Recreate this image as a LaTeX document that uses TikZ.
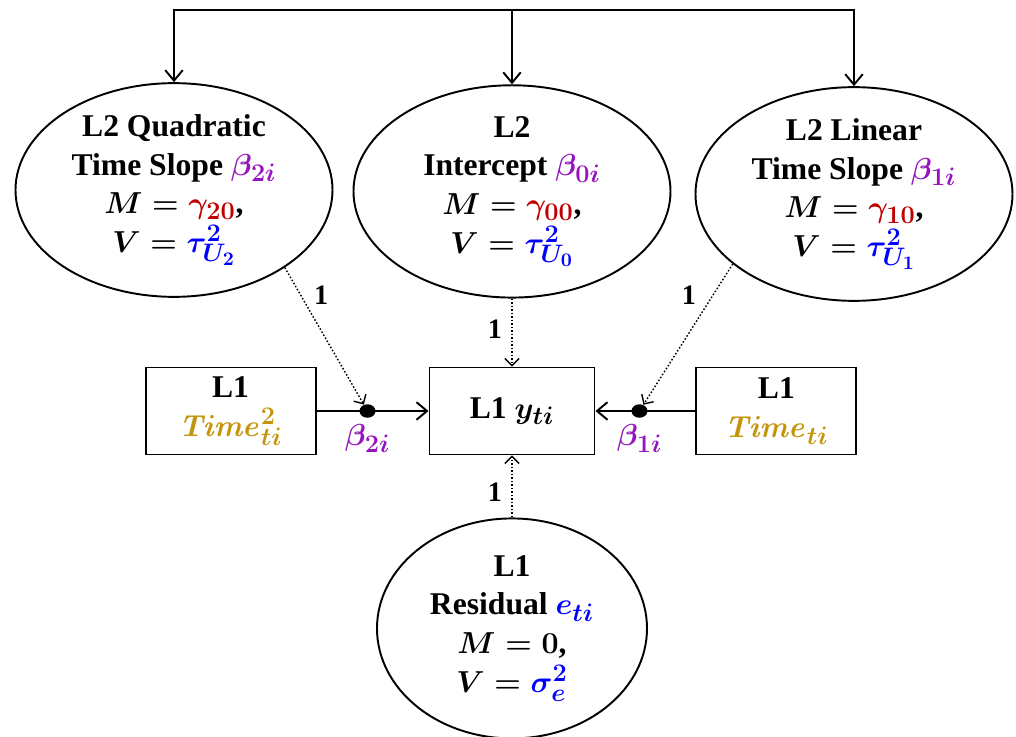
\documentclass[tikz,border=0pt]{standalone}
\usepackage[no-math]{fontspec}
\setmainfont{Liberation Serif}
\usepackage{xcolor}
\definecolor{betapurple}{RGB}{150,20,190}
\definecolor{gammared}{RGB}{192,0,0}
\definecolor{taublue}{RGB}{0,0,255}
\definecolor{timegold}{RGB}{196,148,10}
\DeclareMathSizes{18}{18}{14}{11}
\usepackage{tikz}
\usetikzlibrary{
  arrows.meta,
  positioning,
  shapes.geometric
}
\tikzset{
  latent/.style={draw, ellipse, line width=1.1pt, inner sep=0pt,
    minimum width=6.34cm, minimum height=4.22cm,
    align=center, font=\fontsize{18}{22}\selectfont\bfseries\boldmath},
  obsbox/.style={draw, line width=1.1pt, minimum height=1.74cm,
    align=center, font=\fontsize{18}{22}\selectfont\bfseries\boldmath},
  arr/.style={-{Straight Barb[length=6pt, width=10pt]}, line width=1.1pt},
  darr/.style={-{Straight Barb[length=4pt, width=8pt]}, line width=0.8pt,
    dash pattern=on 0.9pt off 1.1pt},
  dotpt/.style={ellipse, fill, inner sep=0pt,
    minimum width=0.32cm, minimum height=0.27cm},
  wlbl/.style={font=\fontsize{16}{18}\selectfont\bfseries},
  slbl/.style={font=\fontsize{18}{22}\selectfont\bfseries\boldmath, text=betapurple},
}
\newcommand{\cbeta}[1]{{\color{betapurple}#1}}
\newcommand{\cgamma}[1]{{\color{gammared}#1}}
\newcommand{\ctau}[1]{{\color{taublue}#1}}
\newcommand{\ctime}[1]{{\color{timegold}#1}}

\begin{document}
\begin{tikzpicture}
  \useasboundingbox (-10.24,-6.5) rectangle (10.08,8.22);

  % Level-1 row: outcome and time predictors
  \node[obsbox, minimum width=3.3cm] (ybox) at (0,0) {L1 $y_{ti}$};
  \node[obsbox, minimum width=3.4cm, left=2.24cm of ybox] (t2box)
    {L1\\$\ctime{\mathit{Time}^2_{ti}}$};
  \node[obsbox, minimum width=3.2cm, right=2cm of ybox] (t1box)
    {L1\\$\ctime{\mathit{Time}_{ti}}$};

  % Level-2 random effects
  \node[latent] (lel) at (-6.76,4.42)
    {L2 Quadratic\\Time Slope $\cbeta{\beta_{2i}}$\\$M=\cgamma{\gamma_{20}}$,\\$V=\ctau{\tau^{2}_{U_2}}$};
  \node[latent, above=1.36cm of ybox] (mel)
    {L2\\Intercept $\cbeta{\beta_{0i}}$\\$M=\cgamma{\gamma_{00}}$,\\$V=\ctau{\tau^{2}_{U_0}}$};
  \node[latent] (rel) at (6.84,4.34)
    {L2 Linear\\Time Slope $\cbeta{\beta_{1i}}$\\$M=\cgamma{\gamma_{10}}$,\\$V=\ctau{\tau^{2}_{U_1}}$};

  % Level-1 residual
  \node[latent, minimum width=5.4cm, minimum height=4.4cm, below=1.24cm of ybox] (bel)
    {L1\\Residual $\ctau{e_{ti}}$\\$M=0$,\\$V=\ctau{\sigma^2_e}$};

  % Top bar (covariances)
  \coordinate (bar) at (0,8.02);
  \draw[arr] (mel.north |- bar) -| (lel.north);
  \draw[arr] (mel.north |- bar) -| (rel.north);
  \draw[arr] (mel.north |- bar) -- (mel.north);

  % Fixed slopes
  \draw[arr] (t2box) -- (ybox);
  \draw[arr] (t1box) -- (ybox);
  \path (t2box) -- node[dotpt, pos=0.455] (d2) {} (ybox);
  \path (t1box) -- node[dotpt, pos=0.56] (d1) {} (ybox);
  \node[slbl, below=0pt of d2] (b2) {$\beta_{2i}$};
  \node[slbl, below=0pt of d1] (b1) {$\beta_{1i}$};

  % Random effects into slopes and outcome
  \draw[darr] (lel.-35) -- node[wlbl, pos=0.2, right=4pt] (w2) {1} (d2);
  \draw[darr] (mel.south) -- node[wlbl, pos=0.45, left=2pt] (w0) {1} (ybox.north);
  \draw[darr] (rel.210) -- node[wlbl, pos=0.22, left=6pt] (w1) {1} (d1);
  \draw[darr] (bel.north) -- node[wlbl, pos=0.4, left=2pt] (we) {1} (ybox.south);
\end{tikzpicture}
\end{document}
